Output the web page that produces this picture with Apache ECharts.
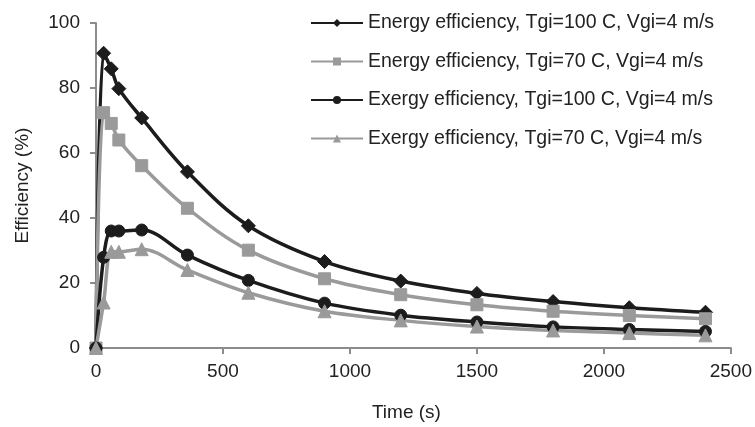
<!DOCTYPE html>
<html><head><meta charset="utf-8">
<script src="https://cdn.jsdelivr.net/npm/echarts@6/dist/echarts.min.js"></script>
<style>html,body{margin:0;padding:0;background:#fff}#c{width:755px;height:427px}</style>
</head><body><div id="c"></div>
<script>
const times = [0, 30, 60, 90, 180, 360, 600, 900, 1200, 1500, 1800, 2100, 2400];
const energy100 = [0, 90.7, 85.9, 79.8, 70.8, 54.2, 37.6, 26.6, 20.6, 16.8, 14.3, 12.4, 11.0];
const energy70 = [0, 72.4, 69.1, 64.0, 56.1, 43.0, 30.1, 21.3, 16.4, 13.3, 11.3, 10.0, 9.0];
const exergy100 = [0, 27.9, 36.0, 36.0, 36.3, 28.6, 20.8, 13.8, 10.1, 8.0, 6.5, 5.7, 5.1];
const exergy70 = [0, 14.0, 29.6, 29.6, 30.4, 24.0, 17.0, 11.3, 8.5, 6.6, 5.4, 4.6, 3.9];
const seriesNames = [
  'Energy efficiency, Tgi=100 C, Vgi=4 m/s',
  'Energy efficiency, Tgi=70 C, Vgi=4 m/s',
  'Exergy efficiency, Tgi=100 C, Vgi=4 m/s',
  'Exergy efficiency, Tgi=70 C, Vgi=4 m/s'
];
const xTicks = [0, 500, 1000, 1500, 2000, 2500];
const yTicks = [0, 20, 40, 60, 80, 100];

const BLACK = '#1c1c1c', GRAY = '#9a9a9a';
function pairs(v){ return times.map((t,i)=>[t, v[i]]); }
function mk(name, vals, color, symbol, size){
  return {
    name, type:'line', data: pairs(vals), smooth:0.35,
    symbol, symbolSize:size,
    lineStyle:{color, width:3.5},
    itemStyle:{color, borderColor:color},
    emphasis:{disabled:true}
  };
}
const chart = echarts.init(document.getElementById('c'), null, {renderer:'canvas'});
chart.setOption({
  animation:false,
  backgroundColor:'#fff',
  textStyle:{fontFamily:'Liberation Sans, Arial, sans-serif'},
  grid:{left:96, right:23, top:23, bottom:77, containLabel:false},
  legend:{
    orient:'vertical', left:305, top:8, itemGap:18.5,
    itemWidth:52, itemHeight:10,
    textStyle:{fontSize:19.5, color:'#222'},
    data: seriesNames
  },
  xAxis:{
    type:'value', min:0, max:2500, interval:500,
    name:'Time (s)', nameLocation:'middle', nameGap:55,
    nameTextStyle:{fontSize:19, color:'#222', padding:[0,14,0,0]},
    axisLine:{show:true, lineStyle:{color:'#8c8c8c', width:2}},
    axisTick:{show:true, length:6, lineStyle:{color:'#8c8c8c', width:2}},
    axisLabel:{fontSize:19, color:'#222', margin:14,
      formatter:v=> xTicks.includes(v) ? String(v) : ''},
    splitLine:{show:false}
  },
  yAxis:{
    type:'value', min:0, max:100, interval:20,
    name:'Efficiency (%)', nameLocation:'middle', nameGap:64, nameRotate:90,
    nameTextStyle:{fontSize:19, color:'#222'},
    axisLine:{show:true, lineStyle:{color:'#8c8c8c', width:2}},
    axisTick:{show:true, length:6, lineStyle:{color:'#8c8c8c', width:2}},
    axisLabel:{fontSize:19, color:'#222', margin:16,
      formatter:v=> yTicks.includes(v) ? String(v) : ''},
    splitLine:{show:false}
  },
  series:[
    mk(seriesNames[0], energy100, BLACK, 'diamond', 14),
    mk(seriesNames[1], energy70, GRAY, 'rect', 12),
    mk(seriesNames[2], exergy100, BLACK, 'circle', 12),
    mk(seriesNames[3], exergy70, GRAY, 'triangle', 13)
  ]
});
</script></body></html>
